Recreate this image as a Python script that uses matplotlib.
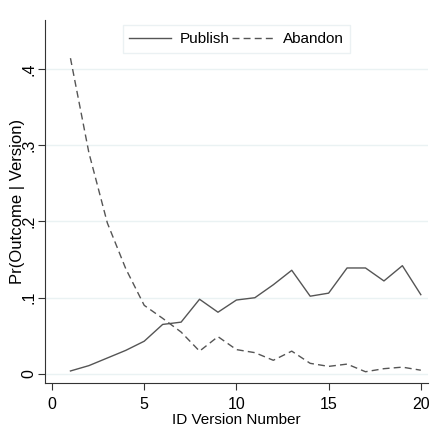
import matplotlib.pyplot as plt

version = list(range(1, 21))
publish = [0.004, 0.011, 0.021, 0.031, 0.043, 0.065, 0.068, 0.098, 0.081, 0.097,
           0.100, 0.117, 0.136, 0.102, 0.106, 0.139, 0.139, 0.122, 0.142, 0.104]
abandon = [0.414, 0.290, 0.198, 0.138, 0.090, 0.073, 0.055, 0.030, 0.049, 0.032,
           0.028, 0.018, 0.030, 0.014, 0.010, 0.013, 0.003, 0.007, 0.009, 0.005]
xticks = [0, 5, 10, 15, 20]
yticks = [0, 0.1, 0.2, 0.3, 0.4]
ytick_labels = ["0", ".1", ".2", ".3", ".4"]

plt.rcParams['font.family'] = ['Liberation Sans', 'DejaVu Sans']

fig = plt.figure(figsize=(4.37, 4.40), dpi=100)
ax = fig.add_axes([0.103, 0.1295, 0.876, 0.825])

ax.plot(version, publish, color='#555555', lw=1.0, label='Publish')
ax.plot(version, abandon, color='#555555', lw=1.0, ls=(0, (5, 3)), label='Abandon')

ax.set_xlim(-0.38, 20.38)
ax.set_ylim(-0.0118, 0.464)
ax.set_xticks(xticks)
ax.set_yticks(yticks)
ax.set_yticklabels(ytick_labels, rotation=90, va='center', ha='right')
ax.tick_params(labelsize=11.5, length=5, color='#333333')
ax.tick_params(axis='y', pad=1)
ax.tick_params(axis='x', pad=5)
ax.grid(axis='y', color='#eaf2f3', lw=1.0)
ax.set_axisbelow(True)
for s in ['top', 'right']:
    ax.spines[s].set_visible(False)
for s in ['left', 'bottom']:
    ax.spines[s].set_color('#333333')

ax.set_xlabel("ID Version Number", fontsize=11, labelpad=1)
ax.set_ylabel("Pr(Outcome | Version)", fontsize=12)
ax.yaxis.set_label_coords(-0.052, 0.5)

leg = ax.legend(loc='upper center', bbox_to_anchor=(0.5, 0.985), ncol=2, fontsize=11,
                frameon=True, fancybox=False, handlelength=2.7, columnspacing=0.15,
                handletextpad=0.6, borderpad=0.45, borderaxespad=0)
leg.get_frame().set_edgecolor('#e6eef0')
leg.get_frame().set_linewidth(1.0)

fig.savefig("out.png", dpi=100, facecolor='white')
